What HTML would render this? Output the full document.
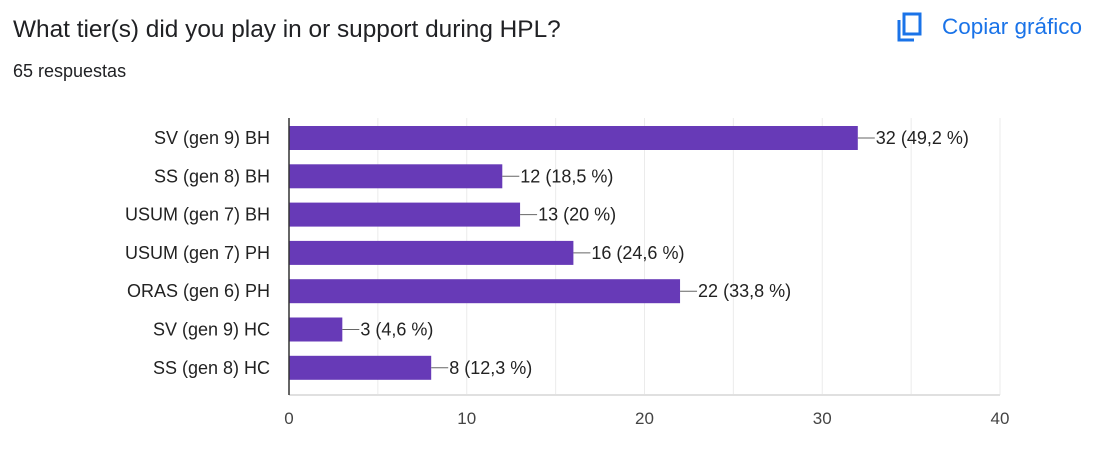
<!DOCTYPE html>
<html><head><meta charset="utf-8"><style>
body{margin:0;width:1109px;height:465px;background:#fff;font-family:"Liberation Sans",sans-serif;overflow:hidden;position:relative}
.t{position:absolute;left:13px;top:16px;font-size:24.4px;color:#202124}
.s{position:absolute;left:13px;top:61px;font-size:18px;color:#202124}
.c{position:absolute;left:942px;top:14px;font-size:22.5px;color:#1a73e8}
</style></head><body>
<div class="t">What tier(s) did you play in or support during HPL?</div>
<div class="s">65 respuestas</div>
<svg style="position:absolute;left:897px;top:12px" width="26" height="30">
<rect x="7" y="2" width="16" height="20" fill="none" stroke="#1a73e8" stroke-width="3"/>
<path d="M2 8 V28 H17" fill="none" stroke="#1a73e8" stroke-width="3"/></svg>
<div class="c">Copiar gráfico</div>
<svg id="ch" style="position:absolute;left:0;top:0" width="1109" height="465"></svg>
<script>
const categories=["SV (gen 9) BH","SS (gen 8) BH","USUM (gen 7) BH","USUM (gen 7) PH","ORAS (gen 6) PH","SV (gen 9) HC","SS (gen 8) HC"];
const values=[32,12,13,16,22,3,8];
const pctLabels=["49,2 %","18,5 %","20 %","24,6 %","33,8 %","4,6 %","12,3 %"];
const ticks=[0,10,20,30,40];
const svg=document.getElementById('ch');const NS='http://www.w3.org/2000/svg';
const x=v=>289+v*(1000-289)/40;
const yc=i=>138+i*38.3;
function mk(t,a){const e=document.createElementNS(NS,t);for(const k in a)e.setAttribute(k,a[k]);svg.appendChild(e);return e;}
for(let v=5;v<=40;v+=5){const g=mk('line',{x1:x(v),x2:x(v),y1:118,y2:395,stroke:'#ebebeb','stroke-width':1});

}
const bl=mk('line',{x1:289,x2:1000,y1:395,y2:395,stroke:'#e0e0e0','stroke-width':2});


ticks.forEach(v=>{const t=mk('text',{x:x(v),y:424,'text-anchor':'middle','font-size':17,fill:'#444'});t.textContent=v;

});
categories.forEach((c,i)=>{const y=yc(i);
const l=mk('text',{x:270,y:y+6,'text-anchor':'end','font-size':18,fill:'#222'});l.textContent=c;


const b=mk('rect',{x:289,y:y-12,width:x(values[i])-289,height:24,fill:'#673ab7'});


const ln=mk('line',{x1:x(values[i]),x2:x(values[i])+17,y1:y,y2:y,stroke:'#666','stroke-width':1});


const vt=mk('text',{x:x(values[i])+18,y:y+6,'font-size':18,fill:'#222'});vt.textContent=values[i]+' ('+pctLabels[i]+')';

});
const ax=mk('line',{x1:289,x2:289,y1:118,y2:395,stroke:'#333','stroke-width':1.5});


</script>
</body></html>
